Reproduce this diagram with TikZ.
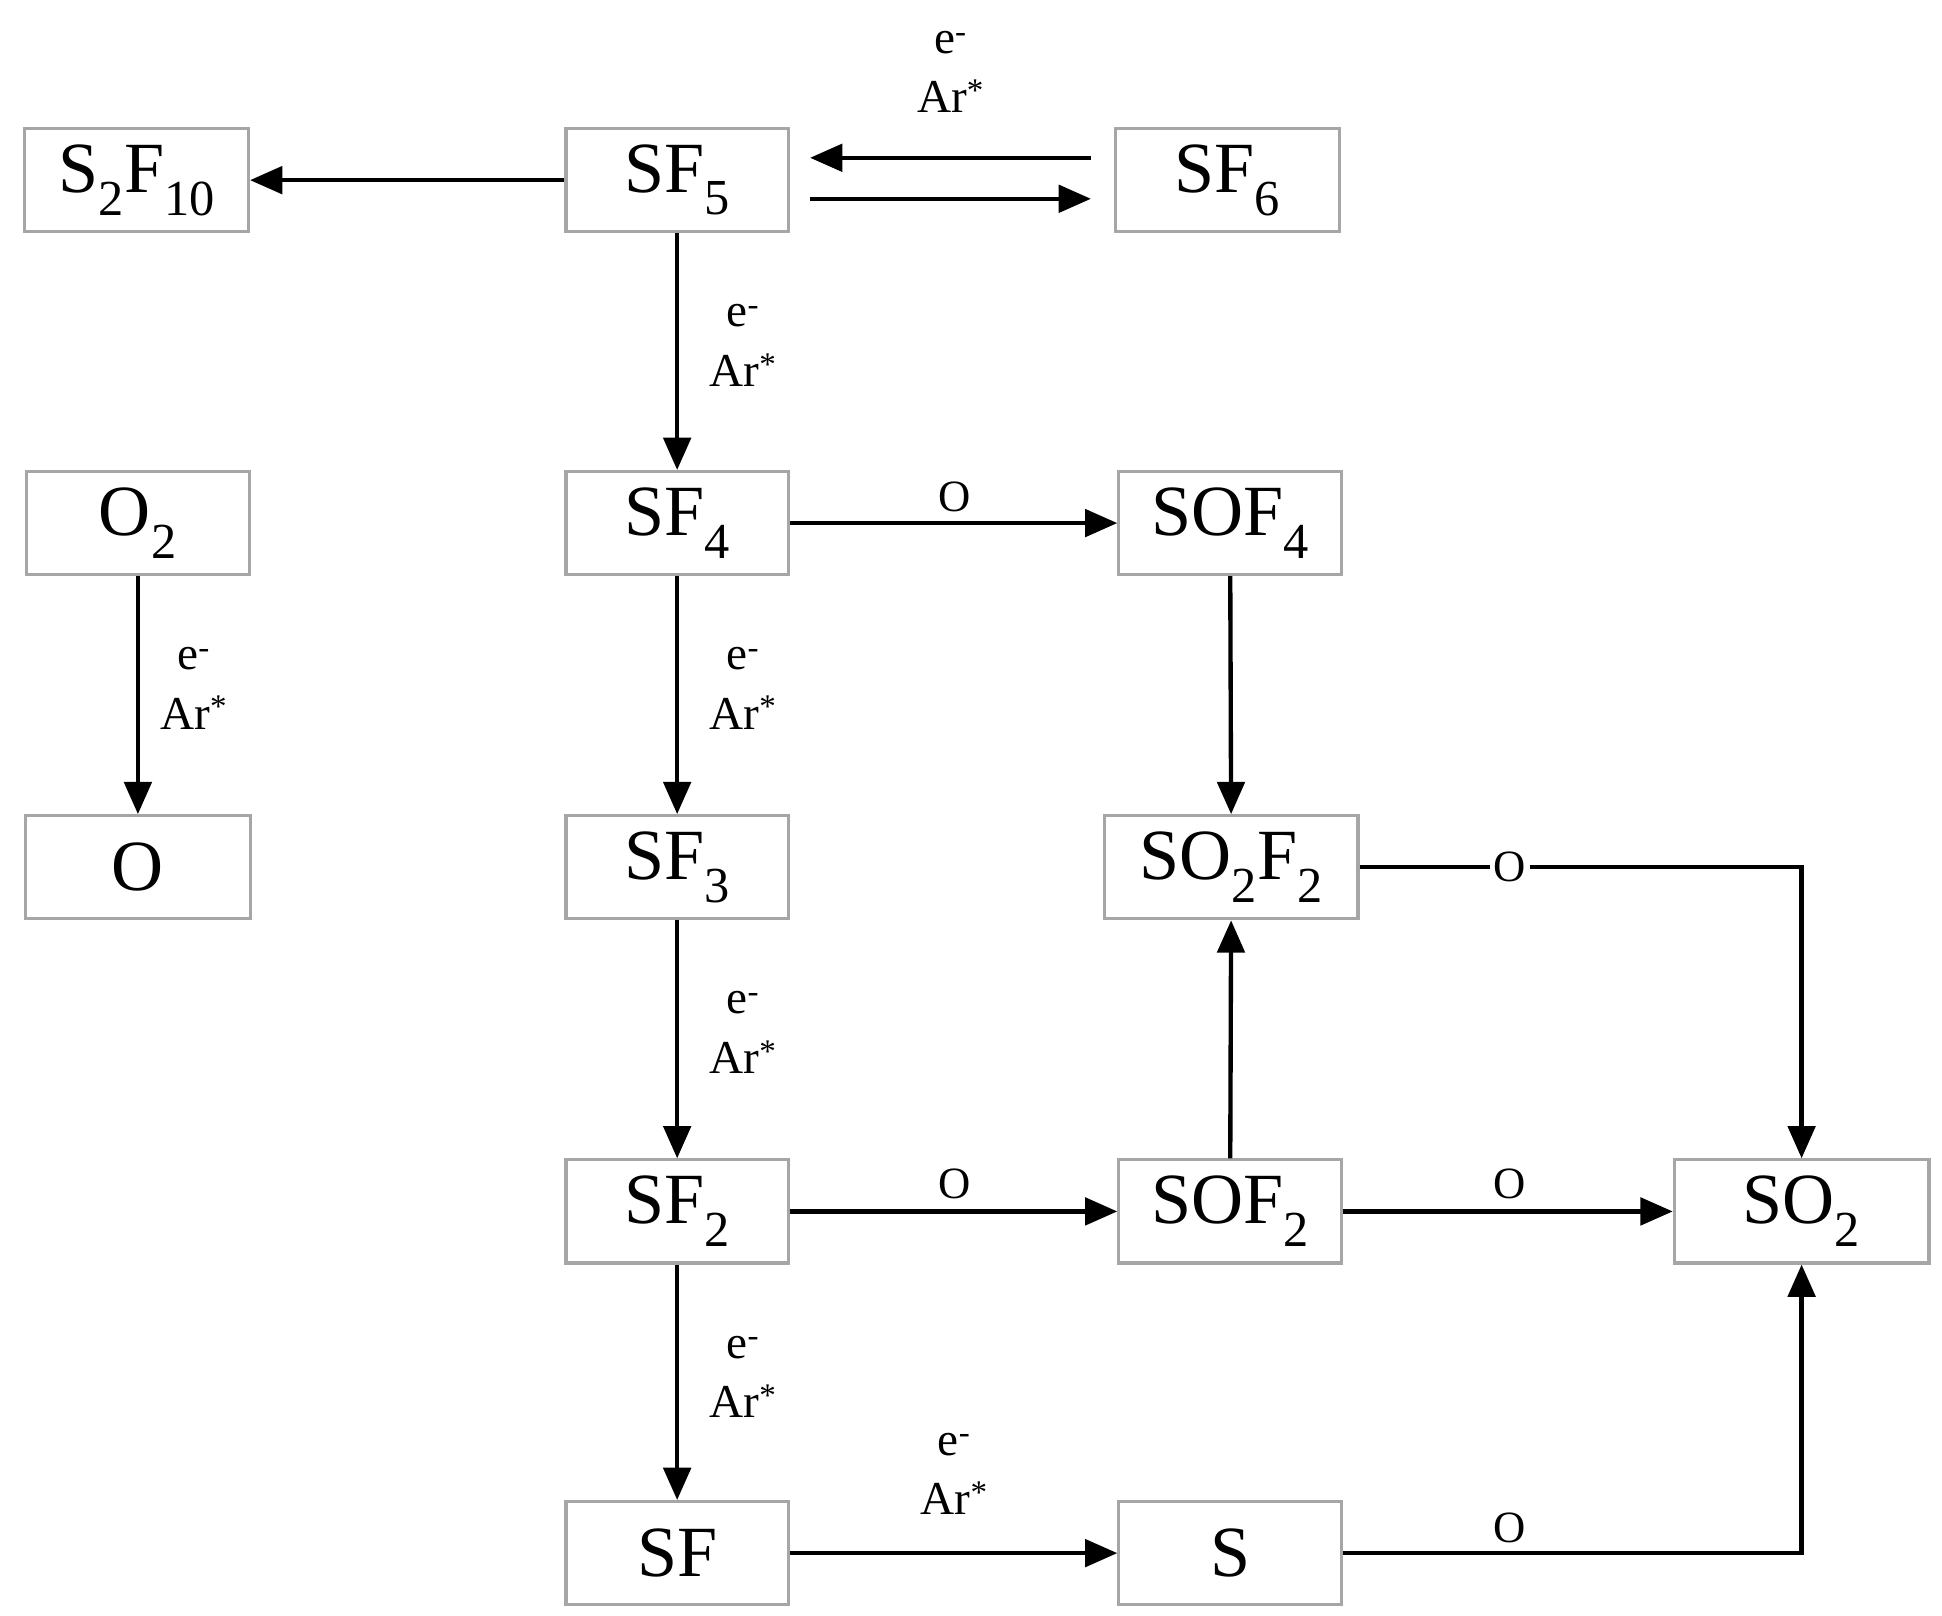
\documentclass[tikz,border=0pt]{standalone}
\usepackage{fontspec}
\setmainfont{Liberation Serif}
\usetikzlibrary{arrows.meta}
\begin{document}
\begin{tikzpicture}[x=1pt,y=-1pt,
 box/.style={draw=gray!70,line width=2.5pt,minimum height=83pt,inner sep=0pt,font=\fontsize{58}{62}\selectfont},
 arr/.style={line width=3.5pt,-{Triangle[length=26pt,width=22pt]}},
 lab/.style={font=\fontsize{38}{42}\selectfont,inner sep=2pt},
 ol/.style={font=\fontsize{36}{40}\selectfont,fill=white,inner sep=3pt}]
\useasboundingbox (0,0) rectangle (1563,1300);
\newcommand{\ea}{\shortstack{e\textsuperscript{-}\\[18pt]Ar\textsuperscript{*}}}
\node[box,minimum width=180pt] (s2f10) at (110,145) {S\textsubscript{2}F\textsubscript{10}};
\node[box,minimum width=179pt] (sf5) at (545,145) {SF\textsubscript{5}};
\node[box,minimum width=180pt] (sf6) at (988,145) {SF\textsubscript{6}};
\node[box,minimum width=180pt] (o2) at (111,421) {O\textsubscript{2}};
\node[box,minimum width=179pt] (sf4) at (545,421) {SF\textsubscript{4}};
\node[box,minimum width=179pt] (sof4) at (990,421) {SOF\textsubscript{4}};
\node[box,minimum width=181pt] (o) at (111,698) {O};
\node[box,minimum width=179pt] (sf3) at (545,698) {SF\textsubscript{3}};
\node[box,minimum width=204pt] (so2f2) at (991,698) {SO\textsubscript{2}F\textsubscript{2}};
\node[box,minimum width=179pt] (sf2) at (545,975) {SF\textsubscript{2}};
\node[box,minimum width=179pt] (sof2) at (990,975) {SOF\textsubscript{2}};
\node[box,minimum width=205pt] (so2) at (1450,975) {SO\textsubscript{2}};
\node[box,minimum width=179pt] (sf) at (545,1250) {SF};
\node[box,minimum width=179pt] (s) at (990,1250) {S};
\coordinate (c1) at (1450,698);
\coordinate (c2) at (1450,1250);
\draw[arr] (sf5.west) -- (s2f10.east);
\draw[arr] (878,127) -- (652,127);
\draw[arr] (652,160) -- (878,160);
\node[lab] at (765,58) {\ea};
\draw[arr] (sf5) -- (sf4); \node[lab] at (598,278) {\ea};
\draw[arr] (sf4) -- (sf3); \node[lab] at (598,554) {\ea};
\draw[arr] (sf3) -- (sf2); \node[lab] at (598,831) {\ea};
\draw[arr] (sf2) -- (sf); \node[lab] at (598,1108) {\ea};
\draw[arr] (o2) -- (o); \node[lab] at (156,554) {\ea};
\draw[arr] (sf) -- (s); \node[lab] at (768,1186) {\ea};
\draw[arr] (sf4) -- (sof4); \node[ol,fill=none] at (768,400) {O};
\draw[arr] (sf2) -- (sof2); \node[ol,fill=none] at (768,953) {O};
\draw[arr] (sof2) -- (so2); \node[ol,fill=none] at (1215,953) {O};
\draw[arr] (sof4) -- (so2f2);
\draw[arr] (sof2) -- (so2f2);
\draw[arr] (so2f2.east) -- (c1) -- (so2.north);
\node[ol] at (1215,698) {O};
\draw[arr] (s.east) -- (c2) -- (so2.south);
\node[ol,fill=none] at (1215,1230) {O};
\end{tikzpicture}
\end{document}
